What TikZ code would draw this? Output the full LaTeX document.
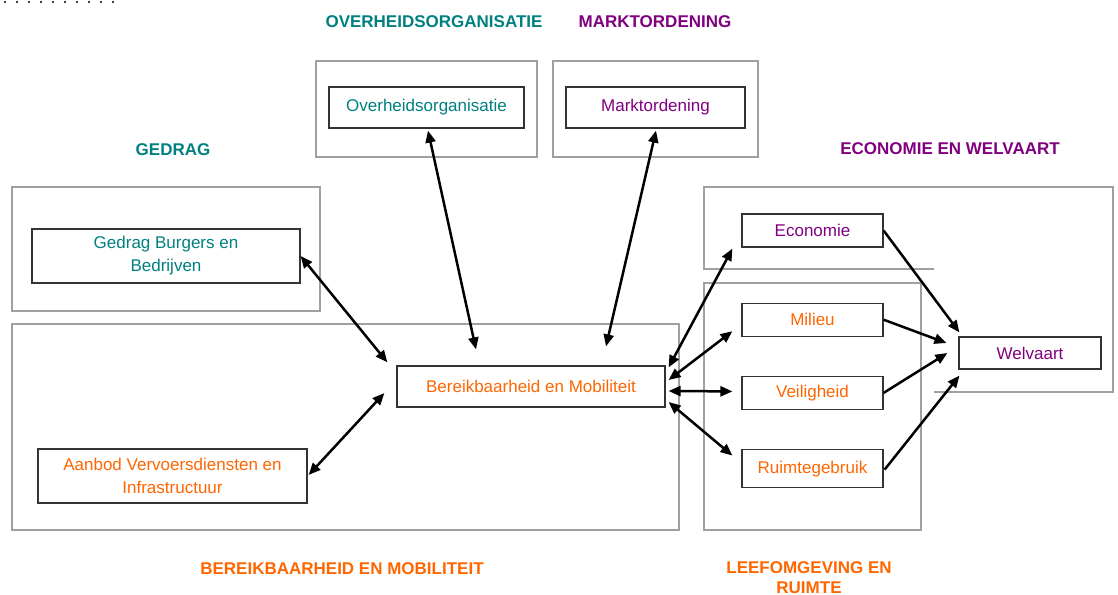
\documentclass[tikz,border=0pt]{standalone}
\usepackage{fontspec}
\setmainfont{Liberation Sans}
\usepackage{tikz}
\usetikzlibrary{positioning,calc,arrows.meta}
\definecolor{govteal}{RGB}{0,128,128}
\definecolor{mktpurple}{RGB}{128,0,128}
\definecolor{mobiorange}{RGB}{255,102,0}
\definecolor{framegray}{RGB}{160,160,160}

\begin{document}
\begin{tikzpicture}[x=1pt, y=-1pt, font=\fontsize{17}{23}\selectfont]
    % Define styles
    \tikzstyle{block} = [rectangle, draw=black!80, line width=1.2pt, fill=white, align=center, inner sep=0pt, minimum width=141pt, minimum height=33pt]
    \tikzstyle{group} = [draw=framegray, line width=2pt]
    \tikzstyle{title} = [font=\fontsize{17}{20}\selectfont\bfseries, align=center]
    \tikzstyle{line} = [draw, line width=2.5pt, -{Triangle[length=12pt,width=10pt]}]
    \tikzstyle{link} = [line, {Triangle[length=12pt,width=10pt]}-{Triangle[length=12pt,width=10pt]}]

    \useasboundingbox (0,0) rectangle (1118,594);

    % Frames
    \draw[group] (316,61) rectangle (537,157);
    \draw[group] (553,61) rectangle (758,157);
    \draw[group] (12,187) rectangle (320,311);
    \draw[group] (12,324) rectangle (679,530);
    \draw[group] (704,283) rectangle (921,530);
    \draw[group] (934,269) -- (704,269) -- (704,187) -- (1113,187) -- (1113,392) -- (934,392);

    \foreach \i in {0,...,9}
        \fill[black!75] ({4+12*\i},1) rectangle ++(2,2);

    % Titles
    \node[title, text=govteal] (tOverheid) at (434,22) {OVERHEIDSORGANISATIE};
    \node[title, text=mktpurple] (tMarkt) at (655,22) {MARKTORDENING};
    \node[title, text=govteal] (tGedrag) at (173,150) {GEDRAG};
    \node[title, text=mktpurple] (tEconomie) at (950,149) {ECONOMIE EN WELVAART};
    \node[title, text=mobiorange] (tBereik) at (342,569) {BEREIKBAARHEID EN MOBILITEIT};
    \node[title, text=mobiorange] (tLeef) at (809,578) {LEEFOMGEVING EN\\RUIMTE};

    % Nodes
    \node[block, minimum width=195pt, minimum height=41pt, text=govteal] (overheid) at (426.5,107.5) {Overheidsorganisatie};
    \node[block, minimum width=179pt, minimum height=41pt, text=mktpurple] (markt) at (655.5,107.5) {Marktordening};
    \node[block, minimum width=268pt, minimum height=54pt, text=govteal] (gedrag) at (166,256) {Gedrag Burgers en\\Bedrijven};
    \node[block, minimum width=268pt, minimum height=41pt, text=mobiorange] (bereik) at (531,386.5) {Bereikbaarheid en Mobiliteit};
    \node[block, minimum width=269pt, minimum height=54pt, text=mobiorange] (aanbod) at (172.5,476) {Aanbod Vervoersdiensten en\\Infrastructuur};
    \node[block, text=mktpurple] (economie) at (812.5,230.5) {Economie};
    \node[block, text=mobiorange, below=55pt of economie] (milieu) {Milieu};
    \node[block, text=mobiorange, below=39pt of milieu] (veilig) {Veiligheid};
    \node[block, text=mobiorange, minimum height=38pt, below=39pt of veilig] (ruimte) {Ruimtegebruik};
    \node[block, minimum width=142pt, minimum height=32pt, text=mktpurple] (welvaart) at (1030,353) {Welvaart};

    % Connections
    \path[link] (gedrag.east) -- ($(bereik.north west)+(-9,-3)$);
    \path[link] ($(aanbod.east)+(1,-1)$) -- ($(bereik.west)+(-12,6.5)$);
    \path[link] ($(overheid.south)+(1.5,2)$) -- ($(bereik.north)+(-55,-16)$);
    \path[link] ($(markt.south)+(0.5,2)$) -- ($(bereik.north)+(75,-19)$);
    \path[link] ($(bereik.north east)+(3,2)$) -- ($(economie.south west)+(-9,1)$);
    \path[link] ($(bereik.east)+(3,-6.5)$) -- ($(milieu.west)+(-9,11.5)$);
    \path[link] ($(bereik.east)+(3,4.5)$) -- ($(veilig.west)+(-9,-1.5)$);
    \path[link] ($(bereik.east)+(3,15.5)$) -- ($(ruimte.west)+(-9,-13)$);
    \path[line] (economie.east) -- ($(welvaart.north west)+(1,-4)$);
    \path[line] (milieu.east) -- ($(welvaart.west)+(-12,-10)$);
    \path[line] (veilig.east) -- ($(welvaart.west)+(-11,0)$);
    \path[line] ($(ruimte.east)+(1,1)$) -- ($(welvaart.south west)+(1,6)$);
\end{tikzpicture}
\end{document}
